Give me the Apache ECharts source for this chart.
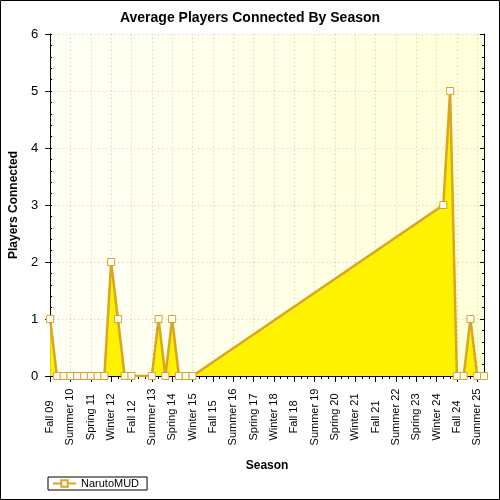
<!DOCTYPE html>
<html>
<head>
<meta charset="utf-8">
<script src="https://cdn.jsdelivr.net/npm/echarts@6/dist/echarts.min.js"></script>
<style>
  html, body { margin: 0; padding: 0; background: #fff; }
  #chart { width: 500px; height: 500px; }
</style>
</head>
<body>
<div id="chart"></div>
<script>
// seasons along the x axis
const seasons = [
    'Fall 09',
    'Winter 10', 'Spring 10', 'Summer 10', 'Fall 10',
    'Winter 11', 'Spring 11', 'Summer 11', 'Fall 11',
    'Winter 12', 'Spring 12', 'Summer 12', 'Fall 12',
    'Winter 13', 'Spring 13', 'Summer 13', 'Fall 13',
    'Winter 14', 'Spring 14', 'Summer 14', 'Fall 14',
    'Winter 15', 'Spring 15', 'Summer 15', 'Fall 15',
    'Winter 16', 'Spring 16', 'Summer 16', 'Fall 16',
    'Winter 17', 'Spring 17', 'Summer 17', 'Fall 17',
    'Winter 18', 'Spring 18', 'Summer 18', 'Fall 18',
    'Winter 19', 'Spring 19', 'Summer 19', 'Fall 19',
    'Winter 20', 'Spring 20', 'Summer 20', 'Fall 20',
    'Winter 21', 'Spring 21', 'Summer 21', 'Fall 21',
    'Winter 22', 'Spring 22', 'Summer 22', 'Fall 22',
    'Winter 23', 'Spring 23', 'Summer 23', 'Fall 23',
    'Winter 24', 'Spring 24', 'Summer 24', 'Fall 24',
    'Winter 25', 'Spring 25', 'Summer 25', 'Fall 25'
];

// average players per season (null = no data for that season)
const narutoMUD = [
    1,
    0, 0, 0, 0,
    0, 0, 0, 0,
    2, 1, 0, 0,
    null, null, 0, 1,
    0, 1, 0, 0,
    0, null, null, null,
    null, null, null, null,
    null, null, null, null,
    null, null, null, null,
    null, null, null, null,
    null, null, null, null,
    null, null, null, null,
    null, null, null, null,
    null, null, null, null,
    null, 3, 5, 0,
    0, 1, 0, 0
];

const yTicks = { min: 0, max: 6, interval: 1 };

const font = 'Liberation Sans, Arial, sans-serif';
const gold = '#DAA520';
const dotted = { color: '#c8c8c8', type: [1, 3], width: 1 };

const myChart = echarts.init(document.getElementById('chart'));

const option = {
    backgroundColor: '#fff',
    animation: false,
    textStyle: { fontFamily: font },
    title: {
        text: 'Average Players Connected By Season',
        left: 'center',
        top: 6,
        textStyle: { fontSize: 14, fontWeight: 'bold', color: '#000', fontFamily: font }
    },
    graphic: [{
        type: 'rect',
        shape: { x: 0.5, y: 0.5, width: 499, height: 499 },
        style: { fill: 'none', stroke: '#000', lineWidth: 1 },
        z: 100
    }],
    legend: {
        left: 48,
        top: 477,
        padding: [1, 8, 1, 4],
        borderColor: '#000',
        borderWidth: 1,
        borderRadius: 0,
        itemWidth: 23,
        itemHeight: 8,
        itemGap: 6,
        textStyle: { fontSize: 11, color: '#000', fontFamily: font },
        data: ['NarutoMUD']
    },
    grid: {
        left: 50,
        right: 16,
        top: 34,
        bottom: 124,
        show: true,
        borderWidth: 0,
        backgroundColor: {
            type: 'linear', x: 0, y: 0, x2: 1, y2: 0,
            colorStops: [
                { offset: 0, color: '#FFFFF6' },
                { offset: 1, color: '#FFFFD8' }
            ]
        }
    },
    xAxis: [
        {
            type: 'category',
            data: seasons,
            boundaryGap: false,
            position: 'bottom',
            name: 'Season',
            nameLocation: 'middle',
            nameGap: 84,
            nameTextStyle: { fontSize: 12, fontWeight: 'bold', color: '#000', fontFamily: font },
            axisLine: { lineStyle: { color: '#000', width: 1 } },
            axisTick: { interval: 0, length: 3, lineStyle: { color: '#000' } },
            axisLabel: {
                interval: 2, rotate: 90, align: 'center', verticalAlign: 'middle',
                fontSize: 11, color: '#000', margin: 41, fontFamily: font
            },
            splitLine: { show: true, interval: 2, lineStyle: dotted }
        },
        {
            type: 'category',
            data: seasons,
            boundaryGap: false,
            position: 'bottom',
            axisLine: { show: false },
            axisTick: { interval: 2, length: 6, lineStyle: { color: '#000' } },
            axisLabel: { show: false },
            splitLine: { show: false }
        },
        {
            type: 'category',
            data: seasons,
            boundaryGap: false,
            position: 'top',
            axisLine: { lineStyle: { color: '#000', width: 1 } },
            axisTick: { interval: 0, inside: true, length: 3, lineStyle: { color: '#000' } },
            axisLabel: { show: false },
            splitLine: { show: false }
        }
    ],
    yAxis: [
        {
            type: 'value',
            min: yTicks.min,
            max: yTicks.max,
            interval: yTicks.interval,
            position: 'left',
            name: 'Players Connected',
            nameLocation: 'middle',
            nameGap: 28,
            nameTextStyle: { fontSize: 12, fontWeight: 'bold', color: '#000', fontFamily: font },
            axisLine: { show: true, lineStyle: { color: '#000', width: 1 } },
            axisTick: { show: true, length: 5, lineStyle: { color: '#000' } },
            axisLabel: { fontSize: 13, color: '#000', margin: 12, fontFamily: font },
            splitLine: { show: true, lineStyle: dotted }
        },
        {
            type: 'value',
            min: yTicks.min,
            max: yTicks.max,
            interval: yTicks.interval,
            position: 'left',
            axisLine: { show: false },
            axisTick: { show: true, inside: true, length: 2, lineStyle: { color: '#000' } },
            minorTick: { show: true, splitNumber: 5, length: 2, lineStyle: { color: '#000' } },
            axisLabel: { show: false },
            splitLine: { show: false }
        },
        {
            type: 'value',
            min: yTicks.min,
            max: yTicks.max,
            interval: yTicks.interval,
            position: 'right',
            axisLine: { show: true, lineStyle: { color: '#000', width: 1 } },
            axisTick: { show: true, inside: true, length: 4, lineStyle: { color: '#000' } },
            minorTick: { show: true, splitNumber: 5, length: 2, lineStyle: { color: '#000' } },
            axisLabel: { show: false },
            splitLine: { show: false }
        }
    ],
    series: [
        {
            name: 'NarutoMUD',
            type: 'line',
            xAxisIndex: 0,
            yAxisIndex: 0,
            data: narutoMUD,
            connectNulls: true,
            symbol: 'rect',
            symbolSize: 7,
            showAllSymbol: true,
            itemStyle: { color: '#fff', borderColor: gold, borderWidth: 1 },
            lineStyle: { color: gold, width: 2.5 },
            areaStyle: { color: '#FFF200', opacity: 1 },
            z: 3
        }
    ]
};

myChart.setOption(option);

window.addEventListener('resize', function () {
    myChart.resize();
});
</script>
</body>
</html>
